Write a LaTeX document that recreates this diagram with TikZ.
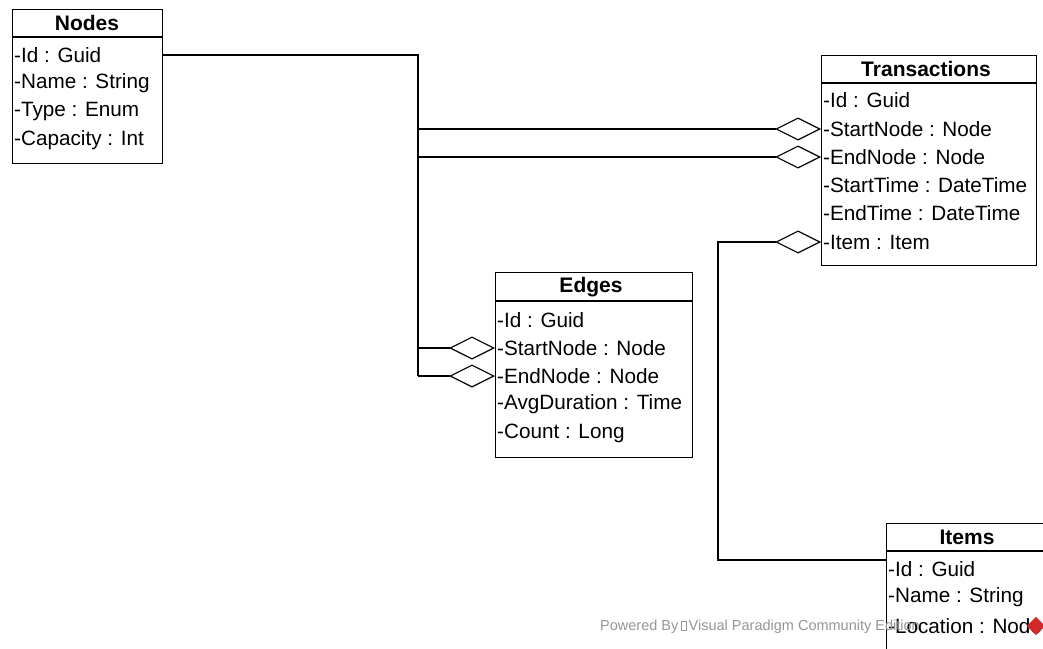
\documentclass[tikz,border=0pt]{standalone}
\usepackage{fontspec}
\setmainfont{Liberation Sans}
\usetikzlibrary{arrows.meta}
\newcommand\attrfont{\fontsize{20.7}{23}\selectfont}
\newcommand\titlefont{\fontsize{21}{23}\selectfont\bfseries}
\newcommand\wmfont{\fontsize{14.5}{16}\selectfont}
\definecolor{wmgray}{RGB}{150,150,150}
\definecolor{vpred}{RGB}{210,40,40}
\tikzset{
  box/.style={draw, line width=1.2pt, inner sep=0pt, anchor=north west},
  attr/.style={anchor=west, inner sep=0pt, font=\attrfont},
  title/.style={inner sep=0pt, font=\titlefont},
  sep/.style={line width=1.2pt},
  conn/.style={line width=1.2pt},
  agg/.style={line width=1.2pt, -{Diamond[open,length=46pt,width=23pt,line width=1.2pt]}},
}
\begin{document}
\begin{tikzpicture}[x=1pt,y=-1pt]
\useasboundingbox (0,0) rectangle (1043,648);
\clip (0,0) rectangle (1043,648);
\fill[white] (0,0) rectangle (1043,648);

% Nodes class
\node[box, minimum width=150pt, minimum height=154pt] (nodes) at (12,9) {};
\draw[sep] (12,37) -- (162,37);
\node[title] (nodesT) at (87,23) {Nodes};
\node[attr] (nId) at (14,55) {-Id : Guid};
\node[attr] (nName) at (14,83) {-Name : String};
\node[attr] (nType) at (14,112) {-Type : Enum};
\node[attr] (nCap) at (14,140) {-Capacity : Int};

% Transactions class
\node[box, minimum width=215pt, minimum height=210pt] (trans) at (821,55) {};
\draw[sep] (821,83) -- (1036,83);
\node[title] (transT) at (926,69) {Transactions};
\node[attr] (tId) at (823,100) {-Id : Guid};
\node[attr] (tSN) at (823,129) {-StartNode : Node};
\node[attr] (tEN) at (823,157) {-EndNode : Node};
\node[attr] (tST) at (823,185) {-StartTime : DateTime};
\node[attr] (tET) at (823,213) {-EndTime : DateTime};
\node[attr] (tIt) at (823,242) {-Item : Item};

% Edges class
\node[box, minimum width=197pt, minimum height=185pt] (edges) at (495,272) {};
\draw[sep] (495,301) -- (692,301);
\node[title] (edgesT) at (591,287) {Edges};
\node[attr] (eId) at (497,320) {-Id : Guid};
\node[attr] (eSN) at (497,348) {-StartNode : Node};
\node[attr] (eEN) at (497,376) {-EndNode : Node};
\node[attr] (eAD) at (497,404) {-AvgDuration : Time};
\node[attr] (eC) at (497,433) {-Count : Long};

% Items class
\node[box, minimum width=200pt, minimum height=160pt] (items) at (886,523) {};
\draw[sep] (886,551) -- (1086,551);
\node[title] (itemsT) at (967,537) {Items};
\node[attr] (iId) at (888,569) {-Id : Guid};
\node[attr] (iName) at (888,597) {-Name : String};
\node[attr] (iLoc) at (888,626) {-Location : Node};

% connectors
\coordinate (j) at (418,55);
\coordinate (k) at (718,242);
\draw[conn] (nodes.east |- nId) -- (j) -- (j |- eEN);
\draw[agg] (j |- eEN) -- (edges.west |- eEN);
\draw[agg] (j |- eSN) -- (edges.west |- eSN);
\draw[agg] (j |- tSN) -- (trans.west |- tSN);
\draw[agg] (j |- tEN) -- (trans.west |- tEN);
\coordinate (m) at (718,560);
\draw[agg] (items.west |- m) -- (m) -- (k) -- (trans.west |- tIt);

% watermark
\node[anchor=west, inner sep=0pt, font=\wmfont, text=wmgray] (wm) at (600,627) {Powered By\,\tikz\draw[wmgray,line width=0.5pt] (0,0) rectangle (5pt,9pt);\,Visual Paradigm Community Edition};
\node[fill=vpred, rotate=45, minimum size=13pt, inner sep=0pt] (logo) at (1036,626) {};
\end{tikzpicture}
\end{document}
